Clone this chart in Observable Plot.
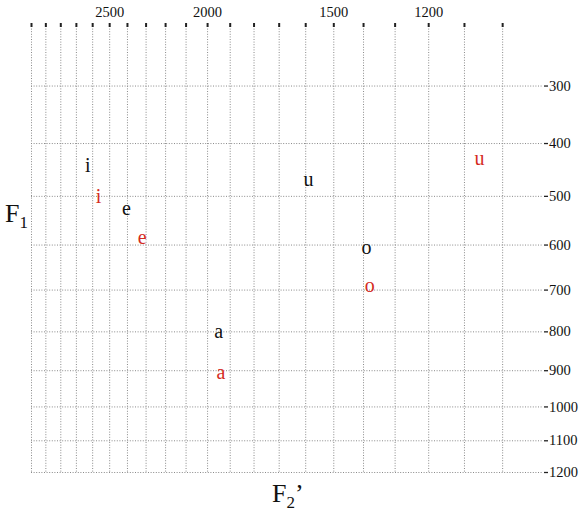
<!DOCTYPE html>
<html>
<head>
<meta charset="utf-8">
<script src="https://cdn.jsdelivr.net/npm/d3@7"></script>
<script src="https://cdn.jsdelivr.net/npm/@observablehq/plot@0.6"></script>
<style>
  html, body { margin: 0; padding: 0; background: #fff; }
  #chart svg { display: block; }
</style>
</head>
<body>
<div id="chart"></div>
<script>
// ---- data (Hz) ----
const blackVowels = ["i", "e", "a", "u", "o"];
const blackF2 = [2630, 2405, 1950, 1590, 1390];
const blackF1 = [440, 525, 800, 467, 605];

const redVowels = ["i", "e", "a", "o", "u"];
const redF2 = [2565, 2320, 1940, 1380, 1060];
const redF1 = [500, 585, 905, 690, 428];

const xGridTicks = [3000, 2900, 2800, 2700, 2600, 2500, 2400, 2300, 2200, 2100, 2000,
                    1900, 1800, 1700, 1600, 1500, 1400, 1300, 1200, 1100, 1000];
const xLabelTicks = [2500, 2000, 1500, 1200];
const yTicks = [300, 400, 500, 600, 700, 800, 900, 1000, 1100, 1200];
const xDomainHz = [3000, 900];
const yDomainHz = [1200, 205];

// Bark (Traunmüller) frequency scale
const bark = f => 26.81 * f / (1960 + f) - 0.53;

const blackData = blackVowels.map((v, i) => ({v, F1: blackF1[i], F2: blackF2[i]}));
const redData = redVowels.map((v, i) => ({v, F1: redF1[i], F2: redF2[i]}));

const xMap = new Map(xGridTicks.map(f => [bark(f), f]));
const yMap = new Map(yTicks.map(f => [bark(f), f]));

const serif = "'Liberation Serif', 'Times New Roman', serif";
const gridStyle = {stroke: "#8a8a8a", strokeWidth: 1, strokeDasharray: "1,1.6"};

const chart = Plot.plot({
  width: 582,
  height: 512,
  marginTop: 26,
  marginBottom: 40,
  marginLeft: 31,
  marginRight: 39,
  style: {fontFamily: serif, fontSize: "14.5px", color: "#111", background: "#fff"},
  x: {type: "linear", domain: xDomainHz.map(bark), label: null},
  y: {type: "linear", domain: yDomainHz.map(bark), label: null},
  marks: [
    Plot.ruleX(xGridTicks, {x: d => bark(d), ...gridStyle}),
    Plot.ruleY(yTicks, {y: d => bark(d), ...gridStyle}),
    Plot.axisX(xGridTicks.map(bark), {
      anchor: "top", tickSize: 4, tickPadding: 6, strokeWidth: 2, stroke: "#222",
      fontSize: 14.5, label: null,
      tickFormat: b => { const f = xMap.get(b); return xLabelTicks.includes(f) ? String(f) : ""; }
    }),
    Plot.axisY(yTicks.map(bark), {
      anchor: "right", tickSize: 4, tickPadding: 1.5, strokeWidth: 1.3, stroke: "#222",
      fontSize: 14.5, label: null,
      tickFormat: b => String(yMap.get(b))
    }),
    Plot.text(blackData, {x: d => bark(d.F2), y: d => bark(d.F1), text: "v",
      fill: "#111", fontSize: 20, fontFamily: serif}),
    Plot.text(redData, {x: d => bark(d.F2), y: d => bark(d.F1), text: "v",
      fill: "#d42b1e", fontSize: 20, fontFamily: serif})
  ]
});

document.getElementById("chart").appendChild(chart);

// Axis titles with subscripts
const svg = d3.select(chart);
const t1 = svg.append("text").attr("x", 5).attr("y", 222).attr("text-anchor", "start")
  .attr("font-family", serif).attr("font-size", 26).attr("fill", "#111");
t1.append("tspan").text("F");
t1.append("tspan").attr("font-size", 17).attr("dy", 6).text("1");

const t2 = svg.append("text").attr("x", 272).attr("y", 502).attr("text-anchor", "start")
  .attr("font-family", serif).attr("font-size", 26).attr("fill", "#111");
t2.append("tspan").text("F");
t2.append("tspan").attr("font-size", 17).attr("dy", 6).text("2");
t2.append("tspan").attr("dy", -6).text("’");
</script>
</body>
</html>
